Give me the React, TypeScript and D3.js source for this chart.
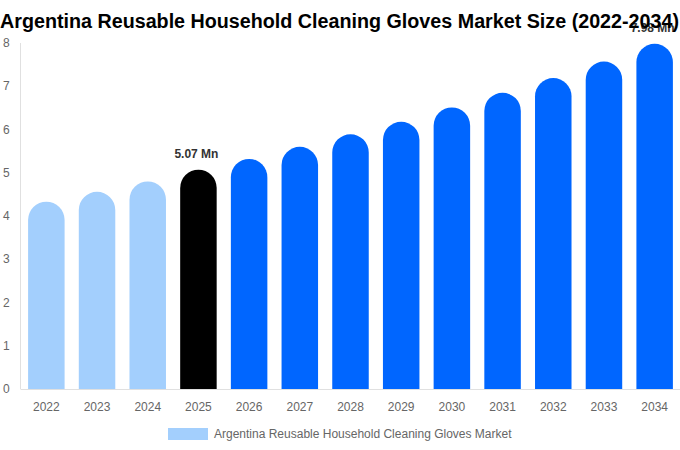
import React from "react";
import * as d3 from "d3";

const years = ["2022", "2023", "2024", "2025", "2026", "2027", "2028", "2029", "2030", "2031", "2032", "2033", "2034"];
const values = [4.33, 4.56, 4.8, 5.07, 5.32, 5.6, 5.89, 6.18, 6.51, 6.85, 7.19, 7.57, 7.98];
const yTicks = [0, 1, 2, 3, 4, 5, 6, 7, 8];
const labelled = ["2025", "2034"];

const W = 680;
const H = 450;
const left = 21;
const right = 680;
const top = 43;
const bottom = 389;

const barColor = (y: string) => {
  const n = +y;
  if (n < 2025) return "#a3cffd";
  if (n === 2025) return "#000000";
  return "#0066ff";
};

// rounded top, flat bottom
const barPath = (x: number, w: number, yTop: number, yBase: number) => {
  const r = w / 2;
  return `M${x},${yBase} L${x},${yTop + r} A${r},${r} 0 0 1 ${x + w},${yTop + r} L${x + w},${yBase} Z`;
};

const App: React.FC = () => {
  const x = d3.scaleBand<string>().domain(years).range([left, right]).paddingInner(0.28).paddingOuter(0.14);
  const y = d3.scaleLinear().domain([0, 8]).range([bottom, top]);
  const bw = x.bandwidth();

  return (
    <svg width={W} height={H} style={{ position: "absolute", left: 0, top: 0, fontFamily: "'Liberation Sans', Arial, sans-serif" }}>
      <line x1={left - 0.5} x2={left - 0.5} y1={top} y2={bottom} stroke="#e0e0e0" />
      <line x1={left - 0.5} x2={right} y1={bottom + 0.5} y2={bottom + 0.5} stroke="#e0e0e0" />

      {yTicks.map((t) => (
        <text key={t} x={3} y={y(t)} dy="0.35em" fontSize={12} fill="#666">
          {t}
        </text>
      ))}

      {years.map((yr, i) => (
        <path key={yr} d={barPath(x(yr)!, bw, y(values[i]), bottom)} fill={barColor(yr)} />
      ))}

      {years.map((yr, i) =>
        labelled.includes(yr) ? (
          <text key={"l" + yr} x={x(yr)! + bw / 2 - 2} y={y(values[i]) - 12} textAnchor="middle" fontSize={12} fontWeight="bold" fill="#333">
            {values[i].toFixed(2)} Mn
          </text>
        ) : null
      )}

      {years.map((yr) => (
        <text key={"x" + yr} x={x(yr)! + bw / 2} y={407} dy="0.35em" textAnchor="middle" fontSize={12} fill="#666">
          {yr}
        </text>
      ))}

      <text x={0} y={28} fontSize={19.5} fontWeight="bold" fill="#000" textLength={679} lengthAdjust="spacingAndGlyphs">
        Argentina Reusable Household Cleaning Gloves Market Size (2022-2034)
      </text>

      <rect x={168} y={428} width={40} height={12} fill="#a3cffd" />
      <text x={214} y={434} dy="0.35em" fontSize={12} fill="#666">
        Argentina Reusable Household Cleaning Gloves Market
      </text>
    </svg>
  );
};

export default App;
